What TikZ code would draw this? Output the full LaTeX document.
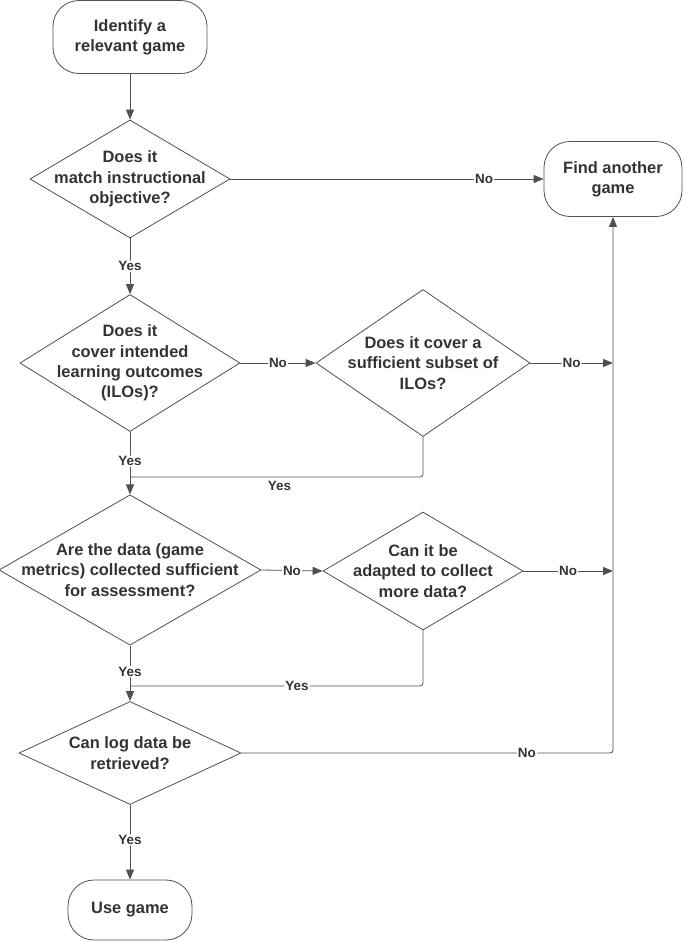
\documentclass[tikz,border=0pt]{standalone}
\usepackage{fontspec}
\setmainfont{Liberation Sans}
\usetikzlibrary{arrows.meta, shapes.geometric}

\begin{document}
\begin{tikzpicture}[
    x=1bp, y=-1bp,
    >={Triangle[length=10bp, width=8bp]},
    font=\fontsize{16.5}{20.5}\selectfont\bfseries,
    terminal/.style={rectangle, rounded corners=26bp, draw=cLine, line width=0.8bp, text=cText, align=center, minimum width=#1},
    decision/.style={diamond, draw=cLine, line width=0.8bp, text=cText, align=center, inner sep=-30bp},
    flow/.style={->, draw=cLine, line width=0.8bp, rounded corners=3bp},
    lbl/.style={fill=white, text=cText, inner sep=1bp, font=\fontsize{13.5}{15}\selectfont\bfseries},
]

\definecolor{cLine}{HTML}{505050}  % lines and outlines
\definecolor{cText}{HTML}{333333}  % text

\useasboundingbox (0,0) rectangle (685,941);

\node[terminal=154bp, minimum height=73bp] (start) at (130,37) {Identify a\\relevant game};
\node[decision, minimum width=200bp, minimum height=118bp] (match) at (130,179) {Does it\\match instructional\\objective?};
\node[terminal=138bp, minimum height=75bp] (other) at (613,179) {Find another\\game};

\node[decision, minimum width=220bp, minimum height=137bp] (ilo) at (130,363) {Does it\\cover intended\\learning outcomes\\(ILOs)?};
\node[decision, minimum width=214bp, minimum height=147bp] (subset) at (423,363) {Does it cover a\\sufficient subset of\\ILOs?};

\node[decision, minimum width=262bp, minimum height=140bp] (data) at (130,570) {Are the data (game\\metrics) collected sufficient\\for assessment?};
\node[decision, minimum width=200bp, minimum height=118bp] (adapt) at (423,571) {Can it be\\adapted to collect\\more data?};

\node[decision, minimum width=222bp, minimum height=103bp] (logs) at (130,753) {Can log data be\\retrieved?};
\node[terminal=124bp, minimum height=60bp] (use) at (130,910) {Use game};

% join points on the main line
\coordinate (joinA) at (130,477);
\coordinate (joinB) at (130,686);

\draw[flow] (start.south) -- (match.north);
\draw[flow] (match.east) -- node[lbl, pos=0.81] {No} (other.west);
\draw[flow] (match.south) -- node[lbl] {Yes} (ilo.north);

\draw[flow] (ilo.east) -- node[lbl] {No} (subset.west);
\draw[flow] (subset.east) -- node[lbl] {No} (subset -| other);
\draw[flow] (ilo.south) -- node[lbl, pos=0.47] {Yes} (data.north);
\draw[flow, -] (subset.south) |- node[lbl, below=3bp, pos=0.745, fill=none] {Yes} (joinA);

\draw[flow] (data.east) -- node[lbl] {No} (adapt.west);
\draw[flow] (adapt.east) -- node[lbl] {No} (adapt -| other);
\draw[flow] (data.south) -- node[lbl, pos=0.47] {Yes} (logs.north);
\draw[flow, -] (adapt.south) |- node[lbl, pos=0.715] {Yes} (joinB);

\draw[flow] (logs.east) -| node[lbl, pos=0.384] {No} (other.south);
\draw[flow] (logs.south) -- node[lbl, pos=0.47] {Yes} (use.north);

\end{tikzpicture}
\end{document}
